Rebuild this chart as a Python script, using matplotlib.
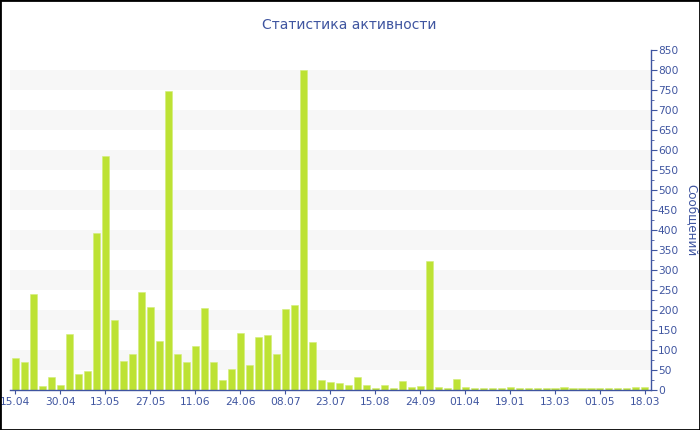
import matplotlib
matplotlib.use("Agg")
import matplotlib.pyplot as plt
from matplotlib.patches import Rectangle
import numpy as np

title = "Статистика активности"
y_label = "Сообщений"
tick_labels = ["15.04", "30.04", "13.05", "27.05", "11.06", "24.06", "08.07", "23.07",
               "15.08", "24.09", "01.04", "19.01", "13.03", "01.05", "18.03"]
values = [79, 71, 240, 11, 33, 12, 140, 40, 47, 393,
          586, 174, 72, 90, 245, 208, 122, 747, 90, 71,
          111, 205, 71, 25, 52, 142, 62, 133, 137, 90,
          202, 212, 800, 120, 24, 19, 17, 13, 32, 12,
          5, 13, 5, 22, 7, 9, 322, 7, 4, 27,
          7, 4, 4, 4, 6, 7, 5, 4, 4, 4,
          4, 7, 4, 4, 4, 6, 4, 6, 4, 7,
          7]

blue = "#3f55a0"
bar_color = "#bde234"

fig = plt.figure(figsize=(7, 4.3), dpi=100)
ax = fig.add_axes([10 / 700, 1 - 390 / 430, (651 - 10) / 700, (390 - 50) / 430])

x = np.arange(len(values))
for lo in range(50, 850, 100):
    ax.axhspan(lo, lo + 50, color="#f7f7f7", lw=0, zorder=0)
ax.bar(x, values, width=0.78, color=bar_color, edgecolor="#d3ee78", linewidth=0.4, zorder=2)

ax.set_xlim(-0.58, 70.67)
ax.set_ylim(0, 850)

ax.set_xticks(x[::5])
ax.set_xticklabels(tick_labels)
ax.yaxis.tick_right()
ax.set_yticks(np.arange(0, 851, 50))
ax.set_yticks(np.arange(0, 851, 25), minor=True)

for s in ["top", "left"]:
    ax.spines[s].set_visible(False)
for s in ["bottom", "right"]:
    ax.spines[s].set_color(blue)
    ax.spines[s].set_linewidth(1)

ax.tick_params(axis="both", colors=blue, labelsize=7.7, labelcolor=blue)
ax.tick_params(axis="x", direction="out", length=3, pad=2)
ax.tick_params(axis="y", which="major", direction="out", length=4, pad=1)
ax.tick_params(axis="y", which="minor", direction="out", length=2, color=blue)
ax.tick_params(axis="x", which="minor", bottom=False)

fig.text(349 / 700, 1 - 25 / 430, title, ha="center", va="center", fontsize=10, color=blue)
fig.text(692 / 700, 1 - 220 / 430, y_label, ha="center", va="center", rotation=270,
         fontsize=8.6, color=blue)

fig.patches.append(Rectangle((0, 0), 1, 1, transform=fig.transFigure, fill=False,
                             edgecolor="black", linewidth=2))

fig.savefig("out.png", dpi=100)
